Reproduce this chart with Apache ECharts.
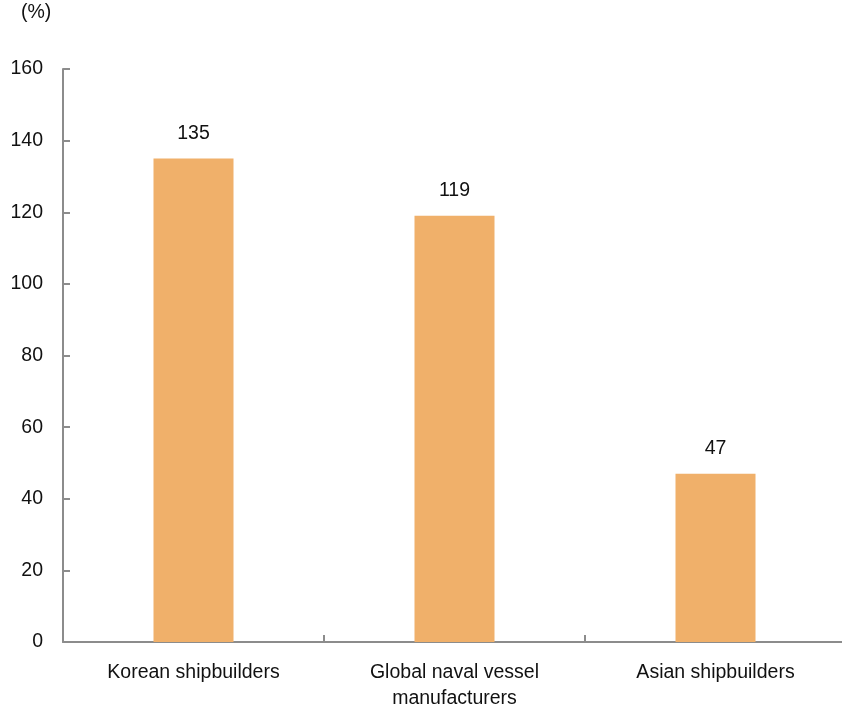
<!DOCTYPE html>
<html><head><meta charset="utf-8">
<script src="https://cdn.jsdelivr.net/npm/echarts@6/dist/echarts.min.js"></script>
<style>html,body{margin:0;padding:0;background:#fff;overflow:hidden}#c{width:842px;height:708px}</style>
</head><body><div id="c"></div>
<script>
const categories = ['Korean shipbuilders', 'Global naval vessel\nmanufacturers', 'Asian shipbuilders'];
const values = [135, 119, 47];
const yTicks = { min: 0, max: 160, interval: 20 };
const unitLabel = '(%)';

const chart = echarts.init(document.getElementById('c'), null, { renderer: 'canvas', width: 842, height: 708 });
const font = 'Liberation Sans, Arial, sans-serif';
const fs = 19.5;
chart.setOption({
  animation: false,
  backgroundColor: '#fff',
  graphic: [{ type: 'text', left: 21, top: 3, style: { text: unitLabel, font: fs + 'px ' + font, fill: '#111' } }],
  grid: { left: 63, top: 69, width: 783, height: 573, outerBoundsMode: 'none', containLabel: false },
  xAxis: {
    type: 'category', data: categories,
    axisLine: { lineStyle: { color: '#8c8c8c', width: 2 } },
    axisTick: { show: true, inside: true, length: 7, interval: 0, lineStyle: { color: '#8c8c8c', width: 2 } },
    axisLabel: { color: '#111', fontSize: fs, fontFamily: font, margin: 18, lineHeight: 26, interval: 0 }
  },
  yAxis: {
    type: 'value', min: yTicks.min, max: yTicks.max, interval: yTicks.interval,
    axisLine: { show: true, lineStyle: { color: '#8c8c8c', width: 2 } },
    axisTick: { show: true, inside: true, length: 7, lineStyle: { color: '#8c8c8c', width: 2 } },
    splitLine: { show: false },
    axisLabel: { color: '#111', fontSize: fs, fontFamily: font, margin: 20 }
  },
  series: [{
    type: 'bar', data: values, barWidth: 80,
    itemStyle: { color: '#F0B06A' },
    label: { show: true, position: 'top', distance: 15, color: '#111', fontSize: fs, fontFamily: font }
  }]
});
</script></body></html>
